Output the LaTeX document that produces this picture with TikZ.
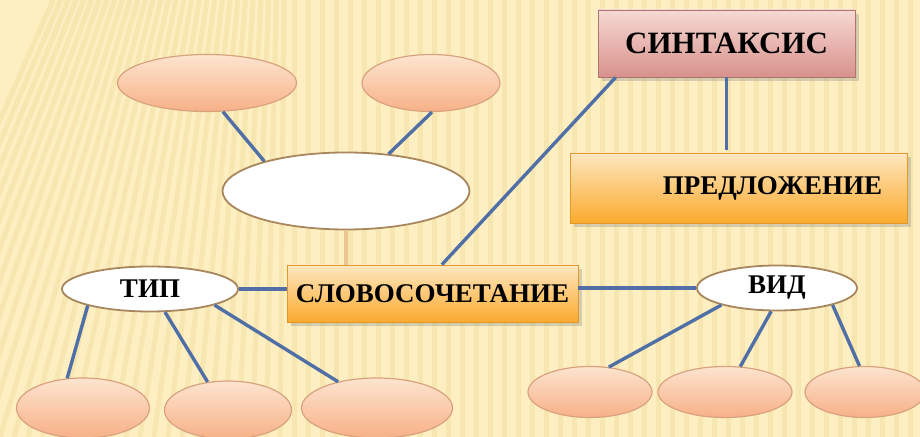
\documentclass[tikz,border=0pt]{standalone}
\usepackage{fontspec}
\setmainfont{Liberation Serif}
\usepackage{xcolor}
\usepackage{tikz}
\usetikzlibrary{positioning,shapes.geometric,shadows,calc}
\definecolor{bgyellow}{HTML}{FDEFC2}
\definecolor{stripecol}{HTML}{F3DD9C}
\definecolor{linkblue}{HTML}{4F6FA6}
\definecolor{linktan}{HTML}{EBC68E}
\definecolor{peachtop}{HTML}{FDE4CF}
\definecolor{peachbot}{HTML}{F7B187}
\definecolor{peachrim}{HTML}{D9A27E}
\definecolor{rimtan}{HTML}{A8875E}
\definecolor{rosetop}{HTML}{F7D9D3}
\definecolor{rosebot}{HTML}{D8918C}
\definecolor{orangetop}{HTML}{FEE7C0}
\definecolor{orangebot}{HTML}{FBAA2E}

\begin{document}
\begin{tikzpicture}[x=0.5pt,y=-0.5pt,font=\bfseries\fontsize{13.5}{15}\selectfont,
  stripe/.style={stripecol,line width=2.5pt,opacity=0.45},
  link/.style={linkblue,line width=1.7pt},
  peach/.style={ellipse,draw=peachrim,line width=0.6pt,top color=peachtop,bottom color=peachbot,inner sep=0pt},
  whiteoval/.style={ellipse,draw=rimtan,line width=0.9pt,fill=white,inner sep=0pt},
  rosebox/.style={rectangle,draw=rosebot!80!black,line width=0.4pt,top color=rosetop,bottom color=rosebot,
    drop shadow={shadow xshift=2pt,shadow yshift=-2pt,opacity=0.3}},
  orangebox/.style={rectangle,draw=orangebot!90!black,line width=0.4pt,top color=orangetop,bottom color=orangebot,
    drop shadow={shadow xshift=2pt,shadow yshift=-2pt,opacity=0.3}}]
  % background
  \fill[bgyellow] (0,0) rectangle (920,437);
  \begin{scope}
    \clip (0,0) rectangle (920,437);
    \foreach \x [evaluate=\x as \s using {max(0,130-0.45*\x)}] in {-140,-126,...,920}
      \draw[stripe] (\x,437) -- (\x+\s,0);
  \end{scope}
  \useasboundingbox (0,0) rectangle (920,437);

  % boxes
  \node[rosebox,minimum width=128.5pt,minimum height=33.5pt,font=\bfseries\fontsize{15.5}{17}\selectfont] (sintaksis) at (726.5,43.5) {СИНТАКСИС};
  \node[orangebox,inner xsep=12.5pt,text width=143.5pt,align=right,minimum height=35pt] (predl) at (738.5,188) {ПРЕДЛОЖЕНИЕ};
  \node[orangebox,minimum width=145.5pt,minimum height=28.5pt] (slovo) at (432.5,293.5) {СЛОВОСОЧЕТАНИЕ};

  % ovals
  \node[whiteoval,minimum width=123.5pt,minimum height=38.5pt] (big) at (346,191) {};
  \node[whiteoval,minimum width=88pt,minimum height=22.5pt] (tip) at (150,289) {ТИП};
  \node[whiteoval,minimum width=80pt,minimum height=22.5pt] (vid) at (777,288) {ВИД};
  \node[peach,minimum width=89.5pt,minimum height=28.5pt] (tl) at (207,83) {};
  \node[peach,minimum width=69pt,minimum height=28.5pt] (tr) at (431,83) {};
  \node[peach,minimum width=66.5pt,minimum height=30pt] (bl1) at (83,408) {};
  \node[peach,minimum width=63.5pt,minimum height=29pt] (bl2) at (228,410) {};
  \node[peach,minimum width=75.5pt,minimum height=30pt] (bl3) at (377,408) {};
  \node[peach,minimum width=62pt,minimum height=25.5pt] (br1) at (590,392) {};
  \node[peach,minimum width=67pt,minimum height=25.5pt] (br2) at (725,392) {};
  \node[peach,minimum width=60pt,minimum height=25.5pt] (br3) at (865,392) {};

  % connectors
  \draw[link] (tl.-61) -- (big.160);
  \draw[link] (tr.-88) -- (big.41);
  \draw[linktan,line width=1.7pt] (big.south) -- (big.south |- slovo.north);
  \draw[link] (sintaksis.-163) -- (slovo.72);
  \draw[link] (sintaksis.south) -- ($(sintaksis.south |- predl.north)+(0,-3)$);
  \draw[link] (tip.east) -- (tip.east -| slovo.west);
  \draw[link] (vid.west -| slovo.east) -- (vid.west);
  \draw[link] (tip.-165) -- (bl1.118);
  \draw[link] (tip.-57) -- (bl2.126);
  \draw[link] (tip.-14) -- (bl3.146);
  \draw[link] (vid.-163) -- (br1.53);
  \draw[link] (vid.-104) -- (br2.59);
  \draw[link] (vid.-17) -- (br3.102);
\end{tikzpicture}
\end{document}
